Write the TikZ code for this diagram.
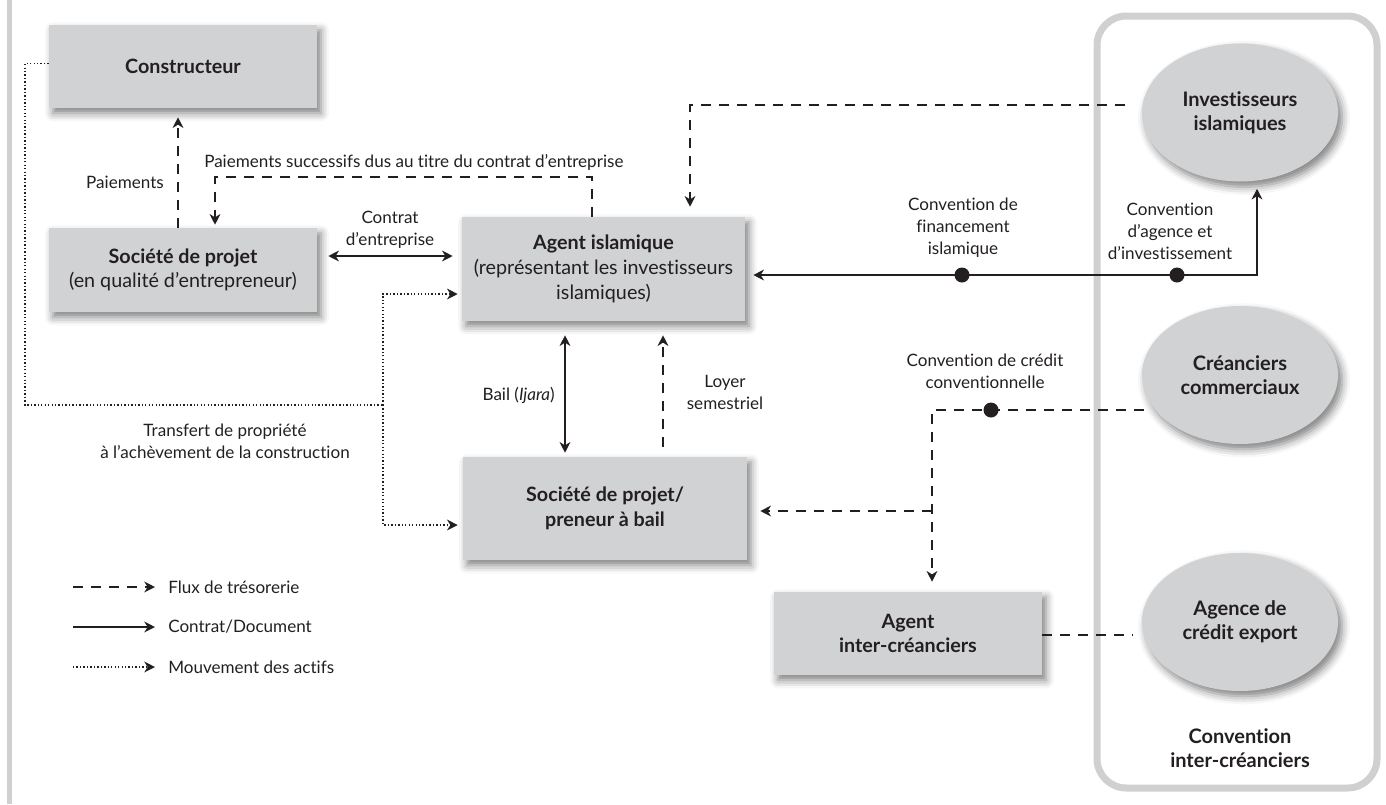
\documentclass[tikz,border=0pt]{standalone}
\usepackage{fontspec}
\setmainfont{Lato}[Ligatures={NoCommon,NoRare}]
\usetikzlibrary{arrows.meta,calc,shadows.blur,shapes.geometric}
\definecolor{boxgray}{HTML}{D1D2D4}
\definecolor{framegray}{HTML}{D0D0D0}
\definecolor{ink}{HTML}{231F20}
\tikzset{
  tip/.style={-{Stealth[length=8pt,width=8pt,inset=2.5pt]}},
  shad/.style={blur shadow={shadow xshift=3pt,shadow yshift=-4pt,shadow blur radius=6pt,shadow opacity=50}},
  box/.style={shad,fill=boxgray,draw=none,align=center,text=ink,font=\fontsize{14.8}{18.5}\selectfont,inner sep=2pt},
  ell/.style={shad,ellipse,fill=boxgray,draw=none,align=center,text=ink,font=\fontsize{15}{18}\selectfont\bfseries,inner sep=0pt,minimum width=147pt,minimum height=103.5pt},
  lbl/.style={align=center,text=ink,font=\fontsize{12.8}{16.5}\selectfont,inner sep=0pt},
  cash/.style={draw=ink,line width=1.15pt,dash pattern=on 7.5pt off 6pt},
  contract/.style={draw=ink,line width=1.3pt},
  asset/.style={draw=ink,line width=1pt,dash pattern=on 1pt off 1.6pt},
  dot/.style={circle,fill=ink,inner sep=0pt,minimum size=11.25pt},
  frame/.style={draw=framegray,line width=5.25pt,rounded corners=22pt,fill=none}
}
\begin{document}
\begin{tikzpicture}[x=0.75pt,y=-0.75pt]
\useasboundingbox (0,0) rectangle (1386,804);
\fill[framegray] (7,0) rectangle (12,804);
\node[frame,minimum width=210pt,minimum height=579pt] (icf) at (1237,402) {};

% boxes
\node[box,minimum width=201pt,minimum height=62.25pt] (cons) at (183,66.5) {\textbf{Constructeur}};
\node[box,minimum width=201pt,minimum height=63pt] (spc) at (183,270) {\textbf{Société de projet}\\(en qualité d’entrepreneur)};
\node[box,minimum width=212.25pt,minimum height=78pt] (agi) at (603.5,269) {\textbf{Agent islamique}\\(représentant les investisseurs\\islamiques)};
\node[box,minimum width=213pt,minimum height=77.25pt] (spb) at (605,508.5) {\textbf{Société de projet/}\\\textbf{preneur à bail}};
\node[box,minimum width=201pt,minimum height=62.25pt] (aic) at (908,633.5) {\textbf{Agent}\\\textbf{inter-créanciers}};

% ellipses
\node[ell] (inv) at (1240,112.5) {Investisseurs\\islamiques};
\node[ell] (cc) at (1240,375) {Créanciers\\commerciaux};
\node[ell] (ace) at (1240,622) {Agence de\\crédit export};
\node[lbl,font=\fontsize{15}{17.5}\selectfont\bfseries] (icl) at (1240,748) {Convention\\inter-créanciers};

% connectors
\draw[cash,tip] ($(spc.north)+(-5,0)$) -- ($(cons.south)+(-5,9)$);
\node[lbl,anchor=east] (lpay) at (164,182) {Paiements};

\draw[cash,tip] ($(agi.north)+(-11.5,0)$) -- ++(0,-40) -| ($(spc.north)+(32,-3)$);
\node[lbl,anchor=west] (lsucc) at (204,162) {Paiements successifs dus au titre du contrat d’entreprise};

\draw[contract,{Stealth[length=8pt,width=8pt,inset=2.5pt]}-{Stealth[length=8pt,width=8pt,inset=2.5pt]}] ($(spc.east)+(11,-14)$) -- ($(agi.west)+(-9,-13)$);
\node[lbl] (lce) at (390,230) {Contrat\\d’entreprise};

\draw[cash,tip] ($(inv.west)+(-17,-7.5)$) -| ($(agi.north)+(86.5,-10)$);

\draw[contract,{Stealth[length=8pt,width=8pt,inset=2.5pt]}-{Stealth[length=8pt,width=8pt,inset=2.5pt]}] ($(inv.south)+(17,7)$) |- ($(agi.east)+(8,6)$);
\node[dot] (d1) at (962,275) {};
\node[dot] (d2) at (1177,275) {};
\node[lbl] (lcfi) at (963,228) {Convention de\\financement\\islamique};
\node[lbl] (lcai) at (1170,231) {Convention\\d’agence et\\d’investissement};

\draw[contract,{Stealth[length=8pt,width=8pt,inset=2.5pt]}-{Stealth[length=8pt,width=8pt,inset=2.5pt]}] ($(agi.south)+(-38.5,14)$) -- ($(spb.north)+(-40,-4)$);
\node[lbl,anchor=east] (lbail) at (555,395) {Bail (\textit{Ijara})};

\draw[cash,tip] ($(spb.north)+(58,-10)$) -- ($(agi.south)+(59.5,14)$);
\node[lbl] (lloy) at (725,392) {Loyer\\semestriel};

\coordinate (lc) at (25,405);
\coordinate (j) at (383,405);
\draw[asset] ($(cons.west)+(0,-3)$) -| (lc) -- (j);
\draw[asset,tip] (j) |- ($(agi.west)+(-4,25)$);
\draw[asset,tip] (j) |- ($(spb.west)+(-5,16.5)$);
\node[lbl] (ltr) at (225,441) {Transfert de propriété\\à l’achèvement de la construction};

\draw[cash,tip] ($(cc.west)+(2,35)$) -| ($(aic.north)+(24,-10)$);
\coordinate (br) at (932,511);
\draw[cash,tip] (br) -- ($(spb.east)+(13,2.5)$);
\node[dot] (d3) at (991,410) {};
\node[lbl] (lccc) at (985,371) {Convention de crédit\\conventionnelle};

\draw[cash] ($(aic.east)+(0,1.5)$) -- ($(ace.west)+(-9,13)$);

% legend
\coordinate (l1a) at (73,587); \coordinate (l1b) at (155,587);
\coordinate (l2a) at (73,627); \coordinate (l2b) at (155,627);
\coordinate (l3a) at (73,667); \coordinate (l3b) at (155,667);
\draw[cash,tip] (l1a) -- (l1b);
\draw[contract,tip] (l2a) -- (l2b);
\draw[asset,tip] (l3a) -- (l3b);
\node[lbl,anchor=west] (lg1) at (168,587) {Flux de trésorerie};
\node[lbl,anchor=west] (lg2) at (168,627) {Contrat/Document};
\node[lbl,anchor=west] (lg3) at (168,667) {Mouvement des actifs};
\end{tikzpicture}
\end{document}
